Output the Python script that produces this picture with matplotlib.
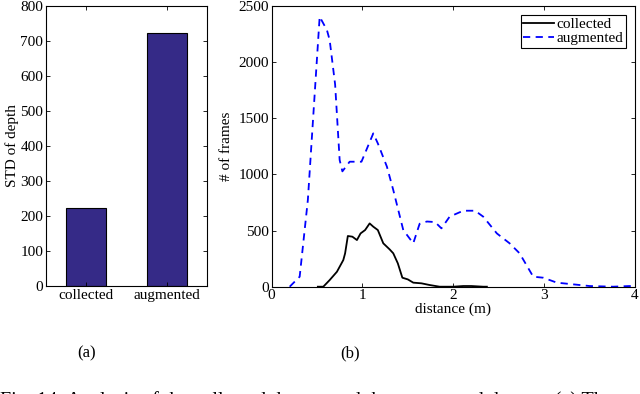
import matplotlib
matplotlib.use("Agg")
import matplotlib.pyplot as plt

plt.rcParams['font.family'] = ['Liberation Serif', 'DejaVu Serif']
plt.rcParams['font.size'] = 11
plt.rcParams['xtick.direction'] = 'in'
plt.rcParams['ytick.direction'] = 'in'

# (a) bar chart data
bar_categories = ['collected', 'augmented']
bar_values = [223, 724]

# (b) line data
collected_x = [0.51, 0.57, 0.64, 0.72, 0.79, 0.81, 0.84, 0.89, 0.94, 0.98, 1.03, 1.08,
               1.12, 1.17, 1.23, 1.30, 1.34, 1.39, 1.44, 1.50, 1.56, 1.65, 1.74, 1.85,
               2.00, 2.11, 2.20, 2.33, 2.37]
collected_y = [0, 0, 59, 133, 237, 297, 451, 445, 415, 474, 504, 563,
               534, 504, 386, 332, 297, 208, 80, 65, 36, 30, 15, 0,
               0, 6, 6, 0, 0]

augmented_x = [0.20, 0.31, 0.40, 0.53, 0.61, 0.64, 0.70, 0.75, 0.78, 0.86, 0.99, 1.12,
               1.17, 1.27, 1.34, 1.45, 1.56, 1.63, 1.71, 1.80, 1.87, 1.96, 2.11, 2.24,
               2.33, 2.48, 2.62, 2.73, 2.88, 2.99, 3.14, 3.32, 3.50, 3.76, 3.94, 3.98]
augmented_y = [0, 89, 771, 2402, 2283, 2195, 1800, 1127, 1026, 1112, 1112, 1364,
               1275, 1068, 860, 504, 386, 560, 580, 575, 519, 623, 676, 676,
               623, 474, 386, 297, 89, 80, 36, 21, 6, 0, 6, 0]

fig = plt.figure(figsize=(6.4, 3.94), dpi=100)

ax1 = fig.add_axes([46/640, 1-286/394, 161/640, 280/394])
ax1.bar([1, 2], bar_values, width=0.5, color='#352A87', edgecolor='black', linewidth=0.8)
ax1.set_xlim(0.5, 2.5)
ax1.set_ylim(0, 800)
ax1.set_xticks([1, 2])
ax1.set_xticklabels(bar_categories)
ax1.set_yticks(range(0, 801, 100))
ax1.set_ylabel('STD of depth', labelpad=1)
ax1.tick_params(top=True, right=True, length=3, width=0.6, pad=2)
for s in ax1.spines.values():
    s.set_linewidth(0.8)

ax2 = fig.add_axes([271.5/640, 1-286.7/394, 363.5/640, 281/394])
ax2.plot(collected_x, collected_y, color='black', linewidth=1.3, label='collected')
ax2.plot(augmented_x, augmented_y, color='blue', linestyle=(0, (4, 3)), linewidth=1.3, label='augmented')
ax2.set_xlim(0, 4)
ax2.set_ylim(0, 2500)
ax2.set_xticks([0, 1, 2, 3, 4])
ax2.set_yticks(range(0, 2501, 500))
ax2.set_xlabel('distance (m)', labelpad=0)
ax2.set_ylabel('# of frames', labelpad=4)
ax2.tick_params(top=True, right=True, length=3, width=0.6, pad=2)
for s in ax2.spines.values():
    s.set_linewidth(0.8)
leg = ax2.legend(loc='upper right', fancybox=False, edgecolor='black', framealpha=1,
                 handlelength=2.0, handletextpad=0.2, borderpad=0.15, labelspacing=0.05,
                 borderaxespad=0.6, fontsize=11)
leg.get_frame().set_linewidth(0.8)

fig.text(87/640, 1-353/394, '(a)', ha='center', va='center', fontsize=12)
fig.text(350/640, 1-353/394, '(b)', ha='center', va='center', fontsize=12)
fig.text(0, 1-391/394, 'Fig. 14: Analysis of the collected dataset and the augmented dataset. (a) The',
         ha='left', va='top', fontsize=14.5)

fig.savefig('out.png', dpi=100)
